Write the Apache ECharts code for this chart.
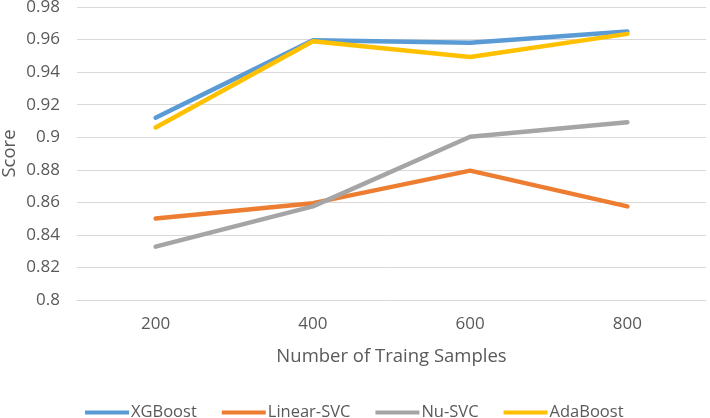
<!DOCTYPE html>
<html>
<head>
<meta charset="utf-8">
<script src="https://cdn.jsdelivr.net/npm/echarts@6/dist/echarts.min.js"></script>
<style>
html, body { margin: 0; padding: 0; background: #fff; }
#chart { width: 710px; height: 418px; }
</style>
</head>
<body>
<div id="chart"></div>
<script>
// data
var categories = ['200', '400', '600', '800'];
var xgboost   = [0.912, 0.9595, 0.958, 0.965];
var linearSvc = [0.850, 0.8595, 0.8795, 0.8575];
var nuSvc     = [0.8328, 0.8575, 0.9003, 0.9092];
var adaboost  = [0.906, 0.959, 0.9493, 0.9635];

var textColor = '#595959';
var font = 'Open Sans';

var chart = echarts.init(document.getElementById('chart'));

function line(name, data, color) {
  return {
    name: name,
    type: 'line',
    data: data,
    symbol: 'none',
    lineStyle: { width: 4.5, color: color, cap: 'round' },
    itemStyle: { color: color }
  };
}

var option = {
  animation: false,
  grid: { left: 77, right: 4, top: 7, bottom: 118, containLabel: false, outerBoundsMode: 'none' },
  legend: {
    top: 399,
    left: 80,
    icon: 'rect',
    itemWidth: 44,
    itemHeight: 4,
    itemGap: 25,
    textStyle: { color: textColor, fontSize: 16.5, fontFamily: font, padding: [0, 0, 0, -3] },
    data: ['XGBoost', 'Linear-SVC', 'Nu-SVC', 'AdaBoost']
  },
  xAxis: {
    type: 'category',
    data: categories,
    name: 'Number of Traing Samples',
    nameLocation: 'middle',
    nameGap: 47,
    nameMoveOverlap: false,
    nameTextStyle: { color: textColor, fontSize: 18.5, fontFamily: font },
    axisLine: { lineStyle: { color: '#d9d9d9' } },
    axisTick: { show: false },
    axisLabel: { color: textColor, fontSize: 17, fontFamily: font, margin: 16 }
  },
  yAxis: {
    type: 'value',
    min: 0.8,
    max: 0.98,
    interval: 0.02,
    name: 'Score',
    nameLocation: 'middle',
    nameGap: 58,
    nameMoveOverlap: false,
    nameTextStyle: { color: textColor, fontSize: 18.5, fontFamily: font },
    axisLine: { show: false },
    axisTick: { show: false },
    splitLine: { lineStyle: { color: '#d9d9d9', width: 1 } },
    axisLabel: {
      color: textColor, fontSize: 17, fontFamily: font, margin: 17,
      formatter: function (v) { return String(+v.toFixed(2)); }
    }
  },
  series: [
    line('XGBoost', xgboost, '#5B9BD5'),
    line('Linear-SVC', linearSvc, '#ED7D31'),
    line('Nu-SVC', nuSvc, '#A5A5A5'),
    line('AdaBoost', adaboost, '#FFC000')
  ]
};

chart.setOption(option);
</script>
</body>
</html>
